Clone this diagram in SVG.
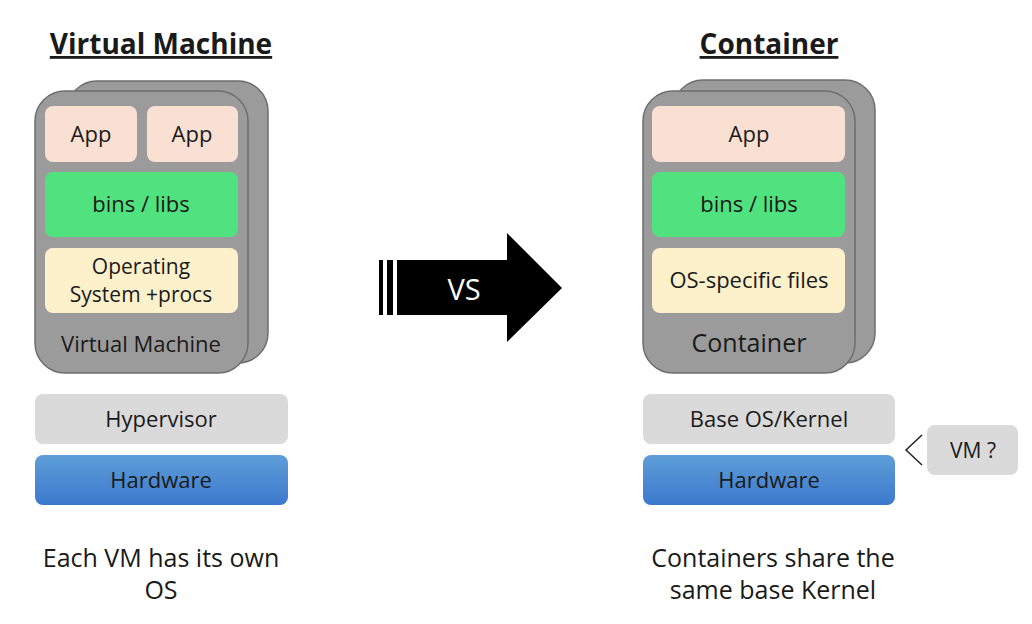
<svg xmlns="http://www.w3.org/2000/svg" width="1032" height="624" viewBox="0 0 1032 624">
<style>
text{font-family:"Open Sans","DejaVu Sans",sans-serif;fill:#1a1a1a;text-anchor:middle}
.card{fill:#9b9b9b;stroke:#6e6e6e;stroke-width:1.5}
.app{fill:#f9e0d3}
.bins{fill:#50e27f}
.os{fill:#fdf1cc}
.gray{fill:#dadada}
.t21{font-size:22px}
.t2l{font-size:21px}
.title{font-size:28px;font-weight:bold;text-decoration:underline}
.note{font-size:25px}
</style>
<defs>
<linearGradient id="hw" x1="0" y1="0" x2="0" y2="1">
<stop offset="0" stop-color="#5f9ed9"/>
<stop offset="1" stop-color="#3b78cc"/>
</linearGradient>
</defs>

<g id="vm-title"><text class="title" x="161" y="54">Virtual Machine</text></g>

<g id="vm-stack">
<rect class="card" x="67" y="81" width="201" height="282" rx="30"/>
<rect class="card" x="35" y="91" width="213" height="282" rx="30"/>
<text class="t21" x="141" y="352">Virtual Machine</text>
</g>
<g id="vm-app1"><rect class="app" x="45" y="106" width="92" height="56" rx="8"/><text class="t21" x="91" y="142">App</text></g>
<g id="vm-app2"><rect class="app" x="147" y="106" width="91" height="56" rx="8"/><text class="t21" x="192" y="142">App</text></g>
<g id="vm-bins"><rect class="bins" x="45" y="172" width="193" height="65" rx="8"/><text class="t21" x="141" y="212">bins / libs</text></g>
<g id="vm-os"><rect class="os" x="45" y="248" width="193" height="65" rx="8"/><text class="t2l" x="141" y="274">Operating</text><text class="t2l" x="141" y="302">System +procs</text></g>
<g id="hypervisor"><rect class="gray" x="35" y="394" width="253" height="50" rx="8"/><text class="t21" x="161" y="427">Hypervisor</text></g>
<g id="vm-hardware"><rect fill="url(#hw)" x="35" y="455" width="253" height="50" rx="8"/><text class="t21" x="161" y="488">Hardware</text></g>
<g id="vm-note"><text class="note" x="161" y="567">Each VM has its own</text><text class="note" x="161" y="599">OS</text></g>

<g id="vs-arrow">
<rect x="379" y="260" width="4" height="55" fill="#000"/>
<rect x="387" y="260" width="6" height="55" fill="#000"/>
<polygon points="397,260 507,260 507,233 562,288 507,342 507,315 397,315" fill="#000"/>
<text x="464" y="300" style="font-size:29px;fill:#fff">VS</text>
</g>

<g id="ct-title"><text class="title" x="769" y="54">Container</text></g>
<g id="ct-stack">
<rect class="card" x="673" y="80" width="202" height="283" rx="30"/>
<rect class="card" x="643" y="91" width="212" height="282" rx="30"/>
<text x="749" y="352" style="font-size:25px">Container</text>
</g>
<g id="ct-app"><rect class="app" x="652" y="106" width="193" height="56" rx="8"/><text class="t21" x="749" y="142">App</text></g>
<g id="ct-bins"><rect class="bins" x="652" y="172" width="193" height="65" rx="8"/><text class="t21" x="749" y="212">bins / libs</text></g>
<g id="ct-os"><rect class="os" x="652" y="248" width="193" height="65" rx="8"/><text class="t21" x="749" y="288">OS-specific files</text></g>
<g id="base-os"><rect class="gray" x="643" y="394" width="252" height="50" rx="8"/><text class="t21" x="769" y="427">Base OS/Kernel</text></g>
<g id="ct-hardware"><rect fill="url(#hw)" x="643" y="455" width="252" height="50" rx="8"/><text class="t21" x="769" y="488">Hardware</text></g>
<g id="vm-q"><rect class="gray" x="927" y="425" width="91" height="50" rx="8"/><text x="973" y="458" style="font-size:21px">VM ?</text></g>
<g id="connectors"><polyline points="922,435 906,450 922,465" fill="none" stroke="#222" stroke-width="1.5"/></g>
<g id="ct-note"><text class="note" x="773" y="567">Containers share the</text><text class="note" x="773" y="599">same base Kernel</text></g>
</svg>
